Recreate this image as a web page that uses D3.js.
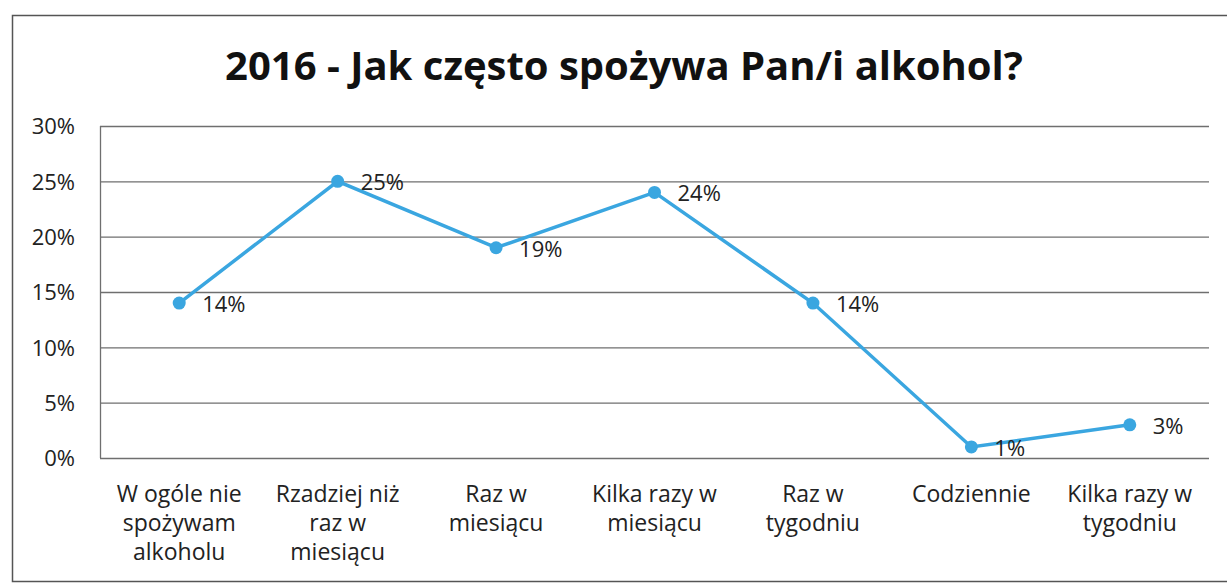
<!DOCTYPE html>
<html>
<head>
<meta charset="utf-8">
<script src="https://cdn.jsdelivr.net/npm/d3@7"></script>
<style>
  html, body { margin: 0; padding: 0; background: #fff; }
  svg { display: block; }
</style>
</head>
<body>
<svg id="chart" width="1227" height="583"></svg>
<script>
const title = "2016 - Jak często spożywa Pan/i alkohol?";
const categories = [
  ["W ogóle nie", "spożywam", "alkoholu"],
  ["Rzadziej niż", "raz w", "miesiącu"],
  ["Raz w", "miesiącu"],
  ["Kilka razy w", "miesiącu"],
  ["Raz w", "tygodniu"],
  ["Codziennie"],
  ["Kilka razy w", "tygodniu"]
];
const values = [14, 25, 19, 24, 14, 1, 3];
const yTicks = [0, 5, 10, 15, 20, 25, 30];

(function () {
const svg = d3.select("#chart");
const font = "'Open Sans', sans-serif";

// outer frame
svg.append("rect")
  .attr("x", 12.5).attr("y", 15.5)
  .attr("width", 1240).attr("height", 566)
  .attr("fill", "none").attr("stroke", "#555").attr("stroke-width", 1.5);

const pLeft = 100, pRight = 1209, pTop = 126, pBottom = 458;

const x = d3.scaleBand().domain(d3.range(categories.length)).range([pLeft, pRight]);
const y = d3.scaleLinear().domain([0, 30]).range([pBottom, pTop]);

// title
svg.append("text")
  .attr("x", 624).attr("y", 80)
  .attr("text-anchor", "middle")
  .attr("font-family", font).attr("font-weight", "bold")
  .attr("font-size", 40).attr("fill", "#111")
  .text(title);

// gridlines
svg.append("g").selectAll("line").data(yTicks).join("line")
  .attr("x1", pLeft).attr("x2", pRight)
  .attr("y1", d => y(d) + 0.5).attr("y2", d => y(d) + 0.5)
  .attr("stroke", "#6f6f6f").attr("stroke-width", 1.3);

// y axis line
svg.append("line")
  .attr("x1", pLeft + 0.5).attr("x2", pLeft + 0.5)
  .attr("y1", pTop).attr("y2", pBottom)
  .attr("stroke", "#6f6f6f").attr("stroke-width", 1.3);

// y labels
const yAxis = d3.axisLeft(y).tickValues(yTicks).tickFormat(d => d + "%").tickSize(0).tickPadding(25);
const ga = svg.append("g").attr("transform", `translate(${pLeft},0)`).call(yAxis);
ga.select(".domain").remove();
ga.selectAll("text")
  .attr("font-family", font).attr("font-size", 22).attr("fill", "#222")
  .attr("dy", "0.35em");

// x labels
const xl = svg.append("g").selectAll("text").data(categories).join("text")
  .attr("text-anchor", "middle")
  .attr("font-family", font).attr("font-size", 23).attr("fill", "#222")
  .attr("x", (d, i) => x(i) + x.bandwidth() / 2)
  .attr("y", 502);
xl.each(function (d, i) {
  const el = d3.select(this);
  d.forEach((s, k) => {
    el.append("tspan")
      .attr("x", x(i) + x.bandwidth() / 2)
      .attr("dy", k === 0 ? 0 : 29)
      .text(s);
  });
});

// line
const cx = i => x(i) + x.bandwidth() / 2;
const line = d3.line().x((d, i) => cx(i)).y(d => y(d));
svg.append("path").datum(values)
  .attr("d", line)
  .attr("fill", "none").attr("stroke", "#3aa6e0").attr("stroke-width", 3.5);

svg.append("g").selectAll("circle").data(values).join("circle")
  .attr("cx", (d, i) => cx(i)).attr("cy", d => y(d))
  .attr("r", 6.5).attr("fill", "#3aa6e0");

// data labels
svg.append("g").selectAll("text").data(values).join("text")
  .attr("x", (d, i) => cx(i) + 23).attr("y", d => y(d))
  .attr("dy", "0.4em")
  .attr("font-family", font).attr("font-size", 22).attr("fill", "#222")
  .text(d => d + "%");
})();
</script>
</body>
</html>
